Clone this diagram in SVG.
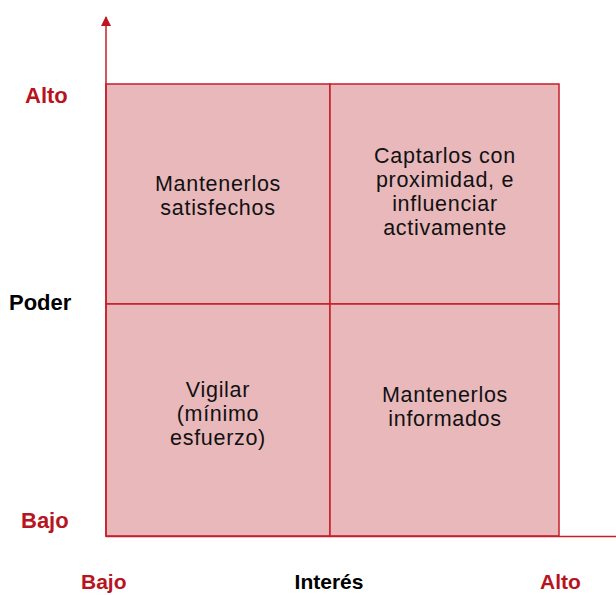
<svg xmlns="http://www.w3.org/2000/svg" width="616" height="595" viewBox="0 0 616 595">
<style>
.q{fill:#e8b8bb;stroke:#c61e2a;stroke-width:1.5}
.ax{stroke:#c61e2a;stroke-width:1.5;fill:none}
.t{font-family:"Liberation Sans",Arial,sans-serif;font-size:21.5px;fill:#111;text-anchor:middle;letter-spacing:0.7px}
.lr{font-family:"Liberation Sans",Arial,sans-serif;font-size:22px;font-weight:bold;fill:#b8141e}
.lb{font-family:"Liberation Sans",Arial,sans-serif;font-size:22px;font-weight:bold;fill:#000}
.bt{font-size:21px}
</style>
<defs>
<marker id="ah" viewBox="0 0 10 10" refX="9" refY="5" markerWidth="10" markerHeight="10" markerUnits="userSpaceOnUse" orient="auto">
<path d="M0,0 L10,5 L0,10 z" fill="#c0141f"/>
</marker>
</defs>
<g id="q-tl"><rect class="q" x="106" y="84" width="224" height="220"/>
<text class="t" x="218" y="191">Mantenerlos</text><text class="t" x="218" y="215">satisfechos</text></g>
<g id="q-tr"><rect class="q" x="330" y="84" width="229" height="220"/>
<text class="t" x="445" y="163">Captarlos con</text><text class="t" x="445" y="187">proximidad, e</text><text class="t" x="445" y="211">influenciar</text><text class="t" x="445" y="235">activamente</text></g>
<g id="q-bl"><rect class="q" x="106" y="304" width="224" height="232"/>
<text class="t" x="218" y="397">Vigilar</text><text class="t" x="218" y="421">(mínimo</text><text class="t" x="218" y="445">esfuerzo)</text></g>
<g id="q-br"><rect class="q" x="330" y="304" width="229" height="232"/>
<text class="t" x="445" y="402">Mantenerlos</text><text class="t" x="445" y="426">informados</text></g>
<g id="connectors">
<line class="ax" x1="106" y1="537" x2="106" y2="17" marker-end="url(#ah)"/>
<line class="ax" x1="106" y1="536.5" x2="625" y2="536.5" marker-end="url(#ah)"/>
</g>
<g id="labels">
<text class="lr" x="25" y="103">Alto</text>
<text class="lb" x="9" y="310">Poder</text>
<text class="lr" x="21" y="528">Bajo</text>
<text class="lr bt" x="81" y="589">Bajo</text>
<text class="lb bt" x="329" y="589" text-anchor="middle">Interés</text>
<text class="lr bt" x="540" y="589">Alto</text>
</g>
</svg>
